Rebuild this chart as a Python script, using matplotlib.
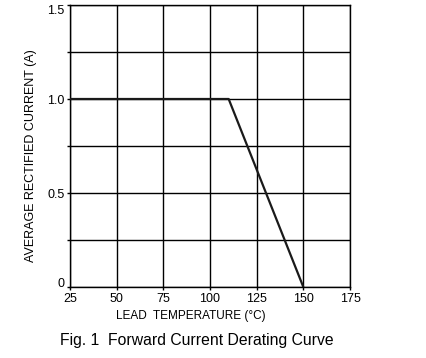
import matplotlib
matplotlib.use("Agg")
import matplotlib.pyplot as plt

plt.rcParams["font.family"] = ["Liberation Sans", "DejaVu Sans"]

# derating curve points (lead temperature in C, current in A)
temp = [25, 110, 150]
current = [1.0, 1.0, 0.0]

x_ticks = [25, 50, 75, 100, 125, 150, 175]
y_grid = [0, 0.25, 0.5, 0.75, 1.0, 1.25, 1.5]
y_labels = {0: "0", 0.5: "0.5", 1.0: "1.0", 1.5: "1.5"}

fig = plt.figure(figsize=(4.26, 3.58), dpi=100)
ax = fig.add_axes([70 / 426, 1 - 287 / 358, 280 / 426, 282 / 358])

ax.plot(temp, current, color="#1a1a1a", lw=1.6, solid_capstyle="butt", zorder=3)

ax.set_xlim(25, 175)
ax.set_ylim(0, 1.5)
ax.set_xticks(x_ticks)
ax.set_xticklabels([str(t) for t in x_ticks])
ax.set_yticks(y_grid)
ax.set_yticklabels([y_labels.get(v, "") for v in y_grid])
ax.grid(True, color="black", lw=1.0)
ax.set_axisbelow(True)
for s in ax.spines.values():
    s.set_color("black")
    s.set_linewidth(1.0)
ax.tick_params(length=2, width=1.0, labelsize=9, colors="black")
ax.tick_params(axis="x", pad=2)
ax.tick_params(axis="y", pad=2)

# top and bottom y labels sit inside the axis range
ylabs = ax.get_yticklabels()
ylabs[0].set_va("baseline")
ylabs[-1].set_va("top")

ax.set_xlabel("LEAD  TEMPERATURE (°C)", fontsize=8.5, labelpad=4, x=0.43)
fig.text(31 / 426, 1 - 156 / 358, "AVERAGE RECTIFIED CURRENT (A)",
         fontsize=9, rotation=90, ha="center", va="center")

fig.text(197 / 426, 1 - 340 / 358, "Fig. 1  Forward Current Derating Curve",
         fontsize=11.3, ha="center", va="center")

fig.savefig("out.png", dpi=100)
